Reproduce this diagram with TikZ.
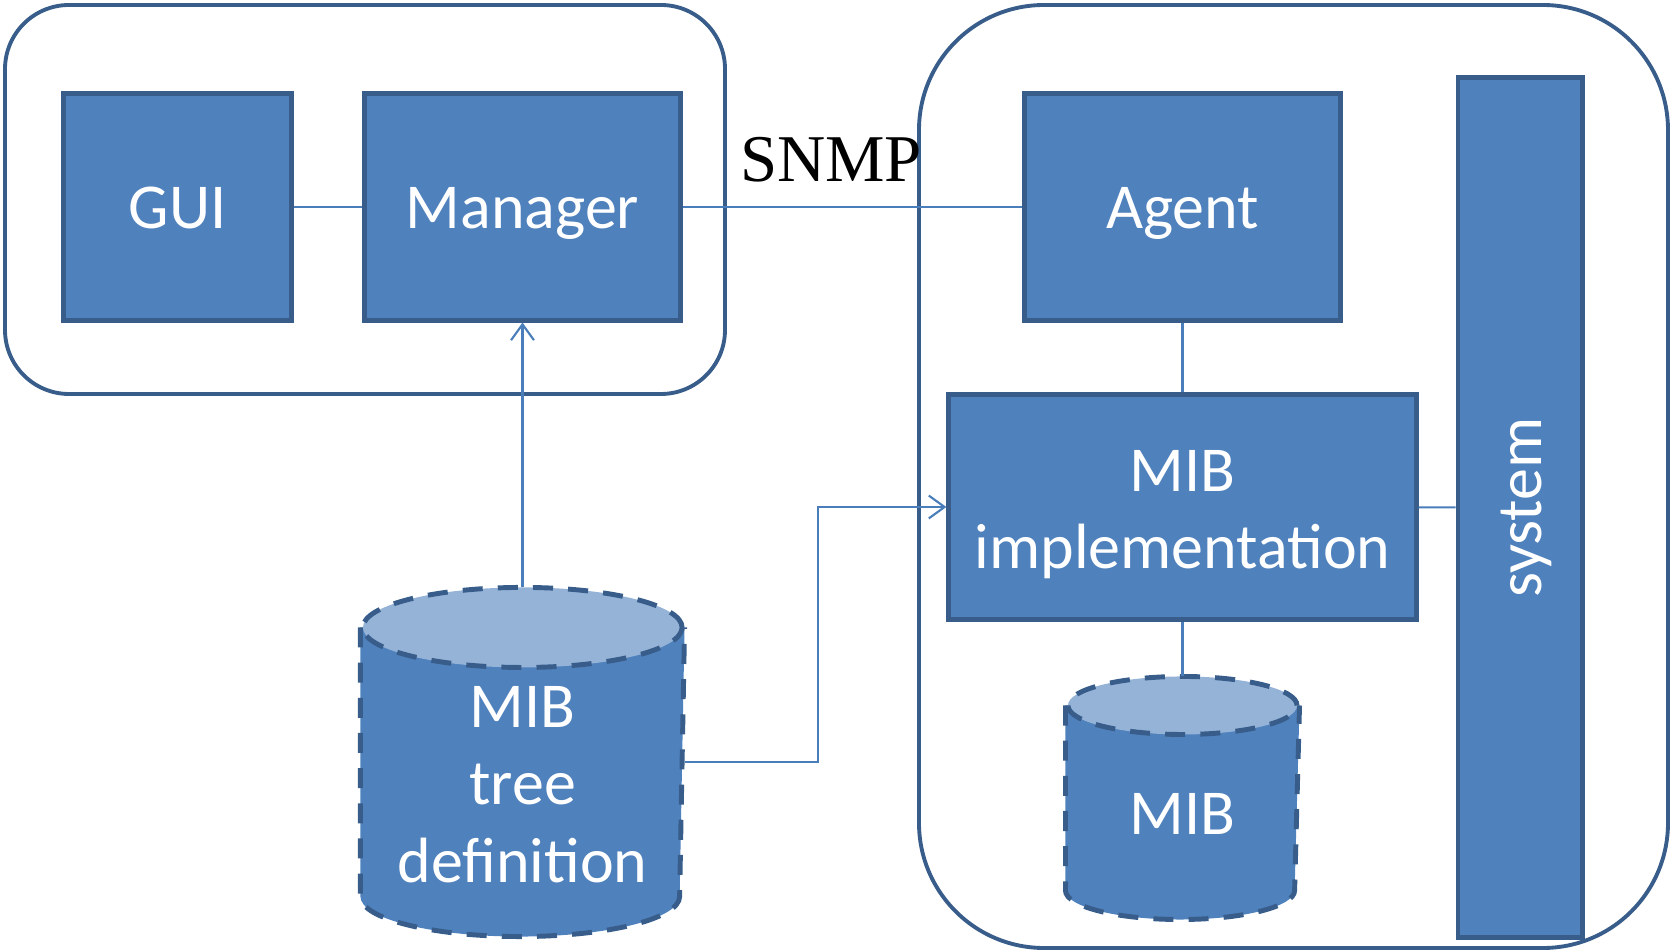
\documentclass[tikz,border=0pt]{standalone}
\usepackage{fontspec}
\setmainfont{Carlito}
\newfontfamily\snmpserif{Liberation Serif}
\usetikzlibrary{
	arrows.meta,
	backgrounds,
	positioning
}
\definecolor{boxfill}{HTML}{4F81BD}
\definecolor{boxline}{HTML}{385D8A}
\definecolor{drumtop}{HTML}{95B3D7}
\definecolor{wirecol}{HTML}{4A7EBB}
\newcommand\blockstrut{\rule[-4pt]{0pt}{20.5pt}}
\newcommand\stackstrut{\rule[-4pt]{0pt}{21pt}}
\tikzset{
	block/.style={
		draw=boxline,fill=boxfill,line width=1.4pt,
		text=white,font=\fontsize{18.2}{22}\selectfont,
		align=center,inner sep=0pt,minimum height=2.26cm,
		execute at begin node=\blockstrut,
		execute at end node=\blockstrut
	},
	drum/.style={
		block,draw=none,fill=none
	},
	drumedge/.style={draw=boxline,line width=1.4pt,dash pattern=on 5.7pt off 4.3pt},
	frame/.style={draw=boxline,line width=1.1pt},
	wire/.style={draw=wirecol,line width=0.6pt},
	every edge/.append style={wire},
	feed/.style={wire,-{Straight Barb[length=4.5pt,width=6.5pt]}}
}
\begin{document}
\begin{tikzpicture}[x=0.01cm,y=-0.01cm]
	\useasboundingbox (0,0) rectangle (1672,952);
	\draw [frame,rounded corners=0.64cm] (5,5) rectangle (725,394);
	\draw [frame,rounded corners=1.25cm] (919,5) rectangle (1668,948);
	\draw
		node [block,minimum width=2.27cm] at (177.5,207) (gui) {GUI}
		node [block,minimum width=3.16cm] at (522.5,207) (manager) {Manager}
		node [block,minimum width=3.16cm] at (1182.5,207) (agent) {Agent}
		node [block,minimum width=4.67cm,minimum height=2.25cm] at (1182.5,507) (mibimpl) {\stackstrut MIB\\implementation}
		node [block,rotate=90,minimum width=8.59cm,minimum height=1.24cm] at (1520,507.5) (system) {system}
		node [drum,minimum width=3.19cm,minimum height=3.04cm] at (522.5,782) (mibtree) {\stackstrut MIB\\tree\\definition}
		node [drum,minimum width=2.29cm,minimum height=2.09cm] at (1182.5,812.5) (mib) {MIB}
		node [font=\snmpserif\fontsize{19}{22}\selectfont] at (831,160) (snmp) {SNMP}
	;
	\coordinate (mibtree top) at ([yshift=0.4cm]mibtree.north);
	\coordinate (mib top) at ([yshift=0.29cm]mib.north);
	\begin{scope}[on background layer]
		\foreach \drumname/\rx/\ry in {mibtree/1.595cm/0.4cm,mib/1.145cm/0.29cm}{
			\fill [boxfill] (\drumname.north west) -- ([yshift=\ry]\drumname.south west)
				arc [start angle=180,end angle=360,x radius=\rx,y radius=\ry] -- (\drumname.north east) -- cycle;
			\draw [drumedge] (\drumname.north west) -- ([yshift=\ry]\drumname.south west)
				arc [start angle=180,end angle=360,x radius=\rx,y radius=\ry] -- (\drumname.north east);
			\filldraw [drumedge,fill=drumtop] (\drumname.north) ellipse [x radius=\rx,y radius=\ry];
		}
	\end{scope}
	\draw
		(gui)     edge (manager)
		(manager) edge (agent)
		(agent)   edge (mibimpl)
		(mibimpl) edge (system)
		(mibimpl) edge (mib top)
	;
	\draw [feed] (mibtree top) -- (manager.south);
	\draw [feed] ([yshift=0.2cm]mibtree.east) -- ++(133,0) |- (mibimpl.west);
\end{tikzpicture}
\end{document}
